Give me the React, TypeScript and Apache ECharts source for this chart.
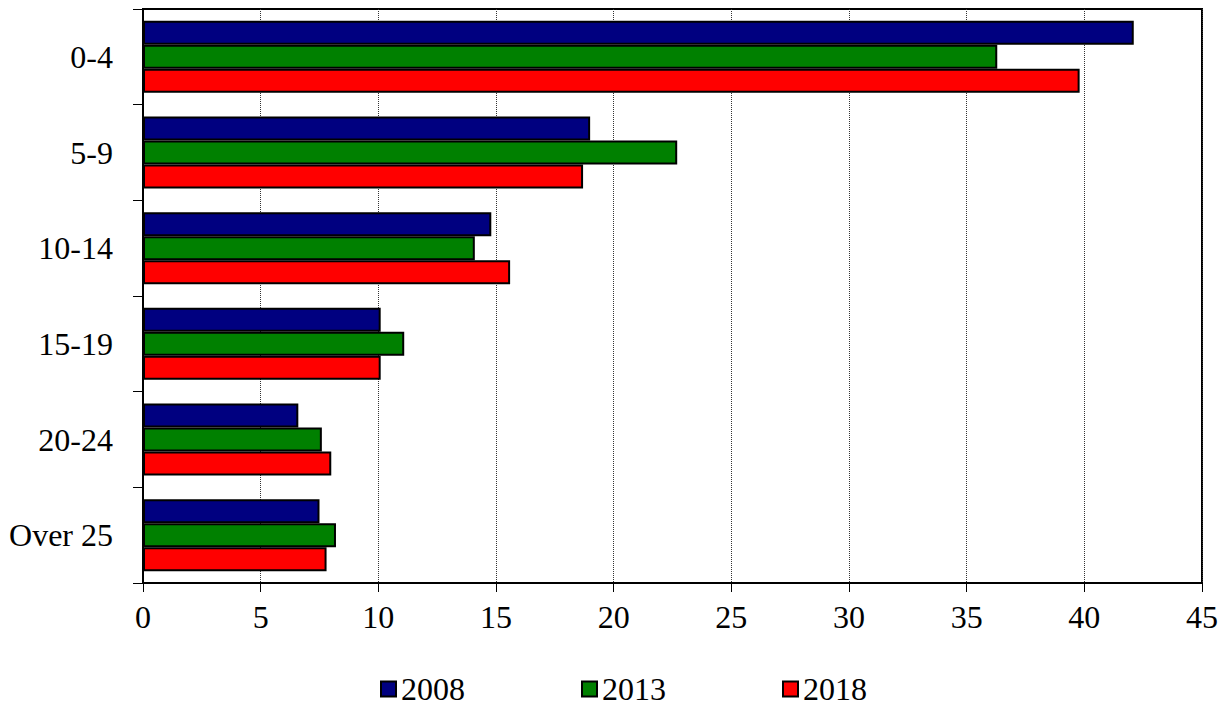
import React, { useEffect, useRef } from "react";
import * as echarts from "echarts";

const categories = ["0-4", "5-9", "10-14", "15-19", "20-24", "Over 25"];
const seriesNames = ["2008", "2013", "2018"];
const values2008 = [42.1, 19.0, 14.8, 10.1, 6.6, 7.5];
const values2013 = [36.3, 22.7, 14.1, 11.1, 7.6, 8.2];
const values2018 = [39.8, 18.7, 15.6, 10.1, 8.0, 7.8];
const colors = ["#000080", "#008000", "#FF0000"];
const xTicks = { min: 0, max: 45, interval: 5 };

const FONT = "'Liberation Serif', 'Times New Roman', serif";

export default function App() {
  const ref = useRef<HTMLDivElement>(null);
  useEffect(() => {
    if (!ref.current) return;
    const chart = echarts.init(ref.current, null, { renderer: "svg" });
    const data = [values2008, values2013, values2018];
    chart.setOption({
      animation: false,
      backgroundColor: "#ffffff",
      textStyle: { fontFamily: FONT },
      grid: {
        left: 143,
        right: 26,
        top: 9,
        bottom: 123,
        show: true,
        borderColor: "#000",
        borderWidth: 2,
        backgroundColor: "transparent",
      },
      legend: {
        data: seriesNames,
        left: 380,
        top: 673,
        padding: 0,
        itemWidth: 15,
        itemHeight: 15,
        itemGap: 116,
        icon: "rect",
        textStyle: { fontFamily: FONT, fontSize: 32, lineHeight: 32, color: "#000" },
      },
      xAxis: {
        type: "value",
        min: xTicks.min,
        max: xTicks.max,
        interval: xTicks.interval,
        axisLine: { show: true, lineStyle: { color: "#000", width: 2 } },
        axisTick: { show: true, length: 9, lineStyle: { color: "#000", width: 1 } },
        axisLabel: { fontFamily: FONT, fontSize: 32, color: "#000", margin: 18 },
        splitLine: { show: true, lineStyle: { color: "#333", width: 1, type: "dotted" } },
      },
      yAxis: {
        type: "category",
        data: categories,
        inverse: true,
        axisLine: { show: true, lineStyle: { color: "#000", width: 2 } },
        axisTick: { show: true, length: 10, lineStyle: { color: "#000", width: 1 } },
        axisLabel: { fontFamily: FONT, fontSize: 32, color: "#000", margin: 30 },
        splitLine: { show: false },
      },
      series: seriesNames.map((name, i) => ({
        name,
        type: "bar",
        data: data[i],
        barWidth: 24,
        barGap: "0%",
        itemStyle: { color: colors[i], borderColor: "#000", borderWidth: 2 },
      })),
    });
    return () => chart.dispose();
  }, []);
  return (
    <div
      ref={ref}
      style={{ position: "fixed", left: 0, top: 0, width: 1228, height: 706 }}
    />
  );
}
